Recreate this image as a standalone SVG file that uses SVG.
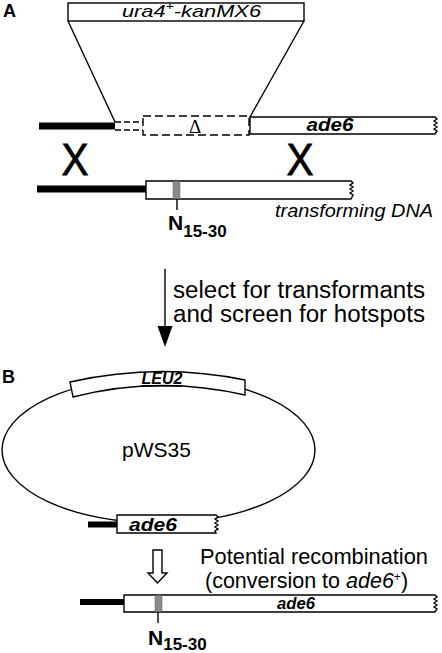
<svg xmlns="http://www.w3.org/2000/svg" width="442" height="653" viewBox="0 0 442 653">
<style>
.ln{fill:none;stroke:#000;stroke-width:1.4}
.box{fill:#fff;stroke:#000;stroke-width:1.4}
.dash{fill:#fff;stroke:#000;stroke-width:1.4;stroke-dasharray:8,4}
.bar{stroke:#000;stroke-width:7;fill:none}
.stripe{fill:#8a8a8a;stroke:#666;stroke-width:0.8;stroke-dasharray:2,1}
.sans{font-family:"Liberation Sans",Arial,sans-serif;fill:#000}
.lab{font-family:"Liberation Sans",Arial,sans-serif;font-weight:bold;font-size:18px}
.gene{font-family:"Liberation Sans",Arial,sans-serif;font-weight:bold;font-style:italic}
.cross{font-family:"Liberation Sans",Arial,sans-serif;font-size:44px;stroke:#000;stroke-width:0.8}
</style>
<rect width="442" height="653" fill="#fff"/>

<text class="lab" x="3" y="17">A</text>
<text class="lab" x="2" y="383">B</text>

<g id="cassette">
<rect class="box" x="68" y="3" width="236" height="18"/>
<text class="sans" x="122" y="17" font-size="17" font-style="italic" textLength="139" lengthAdjust="spacingAndGlyphs">ura4<tspan font-size="11" dy="-7">+</tspan><tspan dy="7">-kanMX6</tspan></text>
</g>

<g id="chromosome">
<line class="bar" x1="39" y1="126" x2="115" y2="126"/>
<path class="ln" d="M115,122 H143 M115,130 H143" stroke-dasharray="6,3"/>
<rect class="dash" x="143" y="116" width="106" height="19"/>
<text x="195" y="133" font-family="'Liberation Serif','Times New Roman',serif" font-size="19" text-anchor="middle">Δ</text>
<path class="box" d="M250,117 H435 L437,119 L434,121 L437,123 L434,125 L437,127 L434,129 L437,131 L435,134 H250 Z"/>
<text class="gene" x="330" y="131" font-size="19" text-anchor="middle" textLength="47" lengthAdjust="spacingAndGlyphs">ade6</text>
</g>

<g id="crossovers">
<text class="cross" x="75" y="175" text-anchor="middle" textLength="27" lengthAdjust="spacingAndGlyphs">X</text>
<text class="cross" x="300" y="175" text-anchor="middle" textLength="27" lengthAdjust="spacingAndGlyphs">X</text>
</g>

<g id="transforming">
<line class="bar" x1="37" y1="189" x2="146" y2="189"/>
<path class="box" d="M146,181 H351 L353,183 L350,185 L353,187 L350,189 L353,191 L350,193 L353,195 L351,199 H146 Z"/>
<rect class="stripe" x="173" y="181.5" width="7" height="17"/>
<line class="ln" x1="177" y1="199" x2="177" y2="210"/>
<text class="sans" x="168" y="230" font-size="21" font-weight="bold">N<tspan font-size="17" dy="7">15-30</tspan></text>
<text class="sans" x="275" y="217" font-size="18" font-style="italic" textLength="158" lengthAdjust="spacingAndGlyphs">transforming DNA</text>
</g>

<g id="step-label">
<text class="sans" x="173" y="298" font-size="23.5" textLength="252" lengthAdjust="spacingAndGlyphs">select for transformants</text>
<text class="sans" x="173" y="322" font-size="23.5" textLength="252" lengthAdjust="spacingAndGlyphs">and screen for hotspots</text>
</g>

<g id="plasmid">
<ellipse class="ln" cx="158.5" cy="450" rx="156.5" ry="73"/>
<path class="box" d="M70,382 Q158,362 245,380 L245,395 Q158,375 73,397 Z"/>
<text class="gene" x="162" y="384" font-size="16" text-anchor="middle" text-decoration="underline">LEU2</text>
<text class="sans" x="122" y="457" font-size="21">pWS35</text>
<line class="bar" x1="88" y1="524.5" x2="117" y2="524.5" style="stroke-width:6"/>
<path class="box" d="M117,515 H216 L218,517 L215,519 L218,521 L215,523 L218,525 L215,527 L218,529 L215,531 L216,533 H117 Z"/>
<text class="gene" x="153" y="531" font-size="19" text-anchor="middle" textLength="48" lengthAdjust="spacingAndGlyphs">ade6</text>
</g>

<g id="recombination-label">
<text class="sans" x="200" y="564" font-size="21.5" textLength="228" lengthAdjust="spacingAndGlyphs">Potential recombination</text>
<text class="sans" x="205" y="588" font-size="21.5">(conversion to <tspan font-style="italic">ade6</tspan><tspan font-size="12" dy="-7">+</tspan><tspan dy="7">)</tspan></text>
</g>

<g id="product">
<line class="bar" x1="80" y1="602" x2="124" y2="602" style="stroke-width:6"/>
<path class="box" d="M124,595 H435 L437,597 L434,599 L437,601 L434,603 L437,605 L434,607 L437,609 L435,612 H124 Z"/>
<rect class="stripe" x="155" y="595.5" width="7" height="16"/>
<line class="ln" x1="158" y1="612" x2="158" y2="623"/>
<text class="gene" x="296" y="609" font-size="17" text-anchor="middle" textLength="38" lengthAdjust="spacingAndGlyphs">ade6</text>
<text class="sans" x="148" y="645" font-size="21" font-weight="bold">N<tspan font-size="17" dy="5">15-30</tspan></text>
</g>

<g id="connectors">
<line class="ln" x1="68" y1="21" x2="115" y2="122"/>
<line class="ln" x1="304" y1="21" x2="250" y2="117"/>
<line class="ln" x1="165" y1="269" x2="165" y2="330"/>
<polygon points="157.5,326 172.5,326 165,347" fill="#000"/>
<path class="box" d="M153,550 H162 V573 H167 L157.5,583 L148,573 H153 Z"/>
</g>
</svg>
